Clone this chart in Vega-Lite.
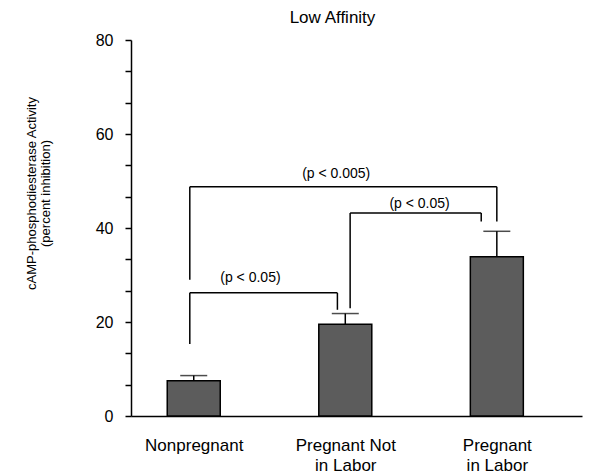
{
  "$schema": "https://vega.github.io/schema/vega-lite/v6.json",
  "width": 451,
  "height": 376,
  "autosize": {"type": "none"},
  "padding": {"left": 131, "top": 40, "right": 20, "bottom": 59},
  "background": "white",
  "config": {
    "font": "Liberation Sans",
    "view": {"stroke": null},
    "axis": {"grid": false, "domainColor": "black", "domainWidth": 1.5, "tickColor": "black", "tickWidth": 1.5, "labelColor": "black", "titleColor": "black", "labelFont": "Liberation Sans", "titleFont": "Liberation Sans"}
  },
  "title": {"text": "Low Affinity", "fontSize": 17, "fontWeight": "normal", "font": "Liberation Sans", "color": "black", "anchor": "middle", "frame": "group", "dx": -24, "offset": 5},
  "datasets": {
    "bars": [
      {"group": "Nonpregnant", "idx": 1, "mean": 7.5, "upper": 8.6},
      {"group": "Pregnant Not in Labor", "idx": 2, "mean": 19.5, "upper": 21.8},
      {"group": "Pregnant in Labor", "idx": 3, "mean": 33.9, "upper": 39.3}
    ],
    "brackets": [
      {"label": "(p < 0.05)", "x1": 0.974, "x2": 1.948, "top": 26.2, "lowL": 15.3, "lowR": 22.6, "tx": 1.374, "ty": 29.3},
      {"label": "(p < 0.05)", "x1": 2.032, "x2": 2.897, "top": 43.2, "lowL": 22.9, "lowR": 41.4, "tx": 2.49, "ty": 45.2},
      {"label": "(p < 0.005)", "x1": 0.974, "x2": 3.0, "top": 48.8, "lowL": 29.0, "lowR": 41.4, "tx": 1.94, "ty": 51.4}
    ]
  },
  "layer": [
    {
      "data": {"name": "bars"},
      "mark": {"type": "bar", "size": 53, "fill": "#5c5c5c", "stroke": "black", "strokeWidth": 1.5},
      "encoding": {
        "x": {"field": "idx", "type": "quantitative", "scale": {"domain": [0.619, 3.529], "nice": false, "zero": false},
          "axis": {"values": [1, 2, 3], "tickCount": 10, "ticks": false, "title": null, "labelFontSize": 17, "labelPadding": 21, "labelLineHeight": 20, "labelOverlap": false,
            "labelExpr": "datum.value == 1 ? 'Nonpregnant' : datum.value == 2 ? ['Pregnant Not', 'in Labor'] : ['Pregnant', 'in Labor']"}},
        "y": {"field": "mean", "type": "quantitative", "scale": {"domain": [0, 80], "nice": false},
          "axis": {"values": [0, 6.67, 13.33, 20, 26.67, 33.33, 40, 46.67, 53.33, 60, 66.67, 73.33, 80],
            "tickCount": 20,
            "labelExpr": "datum.value % 20 == 0 ? format(datum.value, 'd') : ''",
            "labelOverlap": false, "labelFlush": false,
            "labelFontSize": 16, "tickSize": 6, "labelPadding": 12,
            "title": ["cAMP-phosphodiesterase Activity", "(percent inhibition)"],
            "titleFontSize": 13, "titleFontWeight": "normal", "titleLineHeight": 14,
            "titleX": -100, "titleY": 153, "titleAlign": "center", "titleBaseline": "middle", "titleAngle": 270}}
      }
    },
    {
      "data": {"name": "bars"},
      "mark": {"type": "rule", "color": "black", "strokeWidth": 1.5},
      "encoding": {
        "x": {"field": "idx", "type": "quantitative"},
        "y": {"field": "mean", "type": "quantitative"},
        "y2": {"field": "upper"}
      }
    },
    {
      "data": {"name": "bars"},
      "mark": {"type": "tick", "orient": "horizontal", "size": 27, "thickness": 1.5, "color": "black"},
      "encoding": {
        "x": {"field": "idx", "type": "quantitative"},
        "y": {"field": "upper", "type": "quantitative"}
      }
    },
    {
      "data": {"name": "brackets"},
      "mark": {"type": "rule", "color": "black", "strokeWidth": 1.5},
      "encoding": {
        "x": {"field": "x1", "type": "quantitative"},
        "x2": {"field": "x2"},
        "y": {"field": "top", "type": "quantitative"}
      }
    },
    {
      "data": {"name": "brackets"},
      "mark": {"type": "rule", "color": "black", "strokeWidth": 1.5},
      "encoding": {
        "x": {"field": "x1", "type": "quantitative"},
        "y": {"field": "top", "type": "quantitative"},
        "y2": {"field": "lowL"}
      }
    },
    {
      "data": {"name": "brackets"},
      "mark": {"type": "rule", "color": "black", "strokeWidth": 1.5},
      "encoding": {
        "x": {"field": "x2", "type": "quantitative"},
        "y": {"field": "top", "type": "quantitative"},
        "y2": {"field": "lowR"}
      }
    },
    {
      "data": {"name": "brackets"},
      "mark": {"type": "text", "fontSize": 14, "color": "black", "align": "center", "baseline": "middle"},
      "encoding": {
        "x": {"field": "tx", "type": "quantitative"},
        "y": {"field": "ty", "type": "quantitative"},
        "text": {"field": "label"}
      }
    }
  ]
}
